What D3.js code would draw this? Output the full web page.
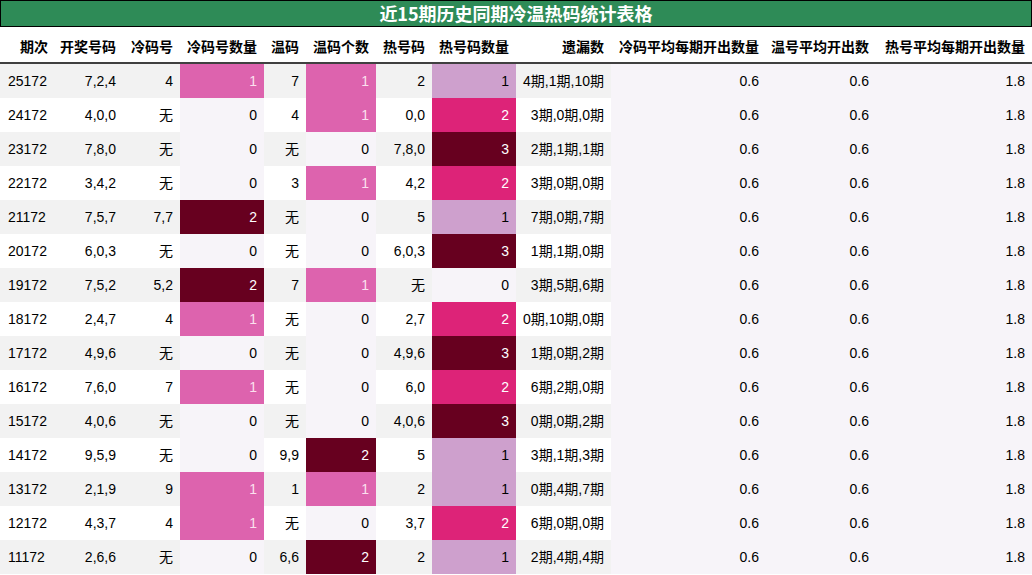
<!DOCTYPE html>
<html><head><meta charset="utf-8">
<script src="https://cdn.jsdelivr.net/npm/d3@7"></script>
<style>body{margin:0;background:#fff;}text{font-family:"Liberation Sans","Noto Sans CJK SC",sans-serif;}</style>
</head><body><div id="chart"></div>
<script>
var title = "近15期历史同期冷温热码统计表格";
var headers = ["期次","开奖号码","冷码号","冷码号数量","温码","温码个数","热号码","热号码数量","遗漏数","冷码平均每期开出数量","温号平均开出数","热号平均每期开出数量"];
var periods = ["25172","24172","23172","22172","21172","20172","19172","18172","17172","16172","15172","14172","13172","12172","11172"];
var draws = ["7,2,4","4,0,0","7,8,0","3,4,2","7,5,7","6,0,3","7,5,2","2,4,7","4,9,6","7,6,0","4,0,6","9,5,9","2,1,9","4,3,7","2,6,6"];
var coldNums = ["4","无","无","无","7,7","无","5,2","4","无","7","无","无","9","4","无"];
var coldCount = [1,0,0,0,2,0,2,1,0,1,0,0,1,1,0];
var warmNums = ["7","4","无","3","无","无","7","无","无","无","无","9,9","1","无","6,6"];
var warmCount = [1,1,0,1,0,0,1,0,0,0,0,2,1,0,2];
var hotNums = ["2","0,0","7,8,0","4,2","5","6,0,3","无","2,7","4,9,6","6,0","4,0,6","5","2","3,7","2"];
var hotCount = [1,2,3,2,1,3,0,2,3,2,3,1,1,2,1];
var missing = ["4期,1期,10期","3期,0期,0期","2期,1期,1期","3期,0期,0期","7期,0期,7期","1期,1期,0期","3期,5期,6期","0期,10期,0期","1期,0期,2期","6期,2期,0期","0期,0期,2期","3期,1期,3期","0期,4期,7期","6期,0期,0期","2期,4期,4期"];
var avgCold = 0.6, avgWarm = 0.6, avgHot = 1.8;

var W = 1032, H = 575, titleH = 27, headH = 37, rowH = 34;
var colEdges = [0,55,123,180,264,306,376,432,516,611,766,876,1032];

var svg = d3.select("#chart").append("svg").attr("width", W).attr("height", H);

var x = d3.scaleOrdinal().domain(d3.range(12)).range(colEdges.slice(0, 12));
var y = d3.scaleBand().domain(periods).range([titleH + headH, titleH + headH + rowH * periods.length]);

var rows = periods.map((p, i) => [p, draws[i], coldNums[i], coldCount[i], warmNums[i], warmCount[i], hotNums[i], hotCount[i], missing[i], avgCold, avgWarm, avgHot]);

// colour scales per numeric column
var heatCols = {3: coldCount, 5: warmCount, 7: hotCount, 9: [avgCold], 10: [avgWarm], 11: [avgHot]};
var scales = {};
Object.keys(heatCols).forEach(k => {
  var mx = d3.max(heatCols[k]), mn = Math.min(0, d3.min(heatCols[k]));
  if (k >= 9) mn = mx; // constant columns -> lightest
  scales[k] = d3.scaleSequential(d3.interpolatePuRd).domain([mn, mx === mn ? mn + 1 : mx]);
});

// row stripes
svg.selectAll("rect.row").data(periods).enter().append("rect")
  .attr("x", 0).attr("y", d => y(d)).attr("width", W).attr("height", rowH)
  .attr("fill", (d, i) => i % 2 === 0 ? "#f2f2f2" : "#ffffff");

rows.forEach((r, i) => {
  r.forEach((v, c) => {
    var x0 = x(c), x1 = colEdges[c + 1];
    var bg = null, tc = "#000";
    if (scales[c]) {
      var t = (v - scales[c].domain()[0]) / (scales[c].domain()[1] - scales[c].domain()[0]);
      bg = scales[c](v);
      if (t >= 0.45) tc = "#fff";
      if (t > 0.4 && t < 0.6) tc = "#fbe0ee";
    }
    if (bg) svg.append("rect").attr("x", x0).attr("y", y(periods[i])).attr("width", x1 - x0).attr("height", rowH).attr("fill", bg);
    var s = (c >= 9) ? d3.format(".1f")(v) : String(v);
    svg.append("text").attr("x", c === 0 ? x0 + 8 : x1 - 7).attr("y", y(periods[i]) + rowH / 2 + 5)
      .attr("text-anchor", c === 0 ? "start" : "end").attr("font-size", 14).attr("fill", tc).text(s);
  });
});

// title bar
svg.append("rect").attr("x", 0.5).attr("y", 0.5).attr("width", W - 1).attr("height", titleH - 1)
  .attr("fill", "#2e8b57").attr("stroke", "#000");
svg.append("text").attr("x", W / 2).attr("y", 21).attr("text-anchor", "middle")
  .attr("font-size", 18).attr("font-weight", "bold").attr("fill", "#fff")
  .style("font-family", "'Noto Sans CJK SC', serif").text(title);

// header
headers.forEach((h, c) => {
  svg.append("text").attr("x", colEdges[c + 1] - 7).attr("y", titleH + 25)
    .attr("text-anchor", "end").attr("font-size", 14).attr("font-weight", "bold")
    .style("font-family", "'Noto Sans CJK SC', sans-serif").text(h);
});
svg.append("line").attr("x1", 0).attr("x2", W).attr("y1", titleH + headH - 1).attr("y2", titleH + headH - 1)
  .attr("stroke", "#000").attr("stroke-width", 1.5);
</script></body></html>
